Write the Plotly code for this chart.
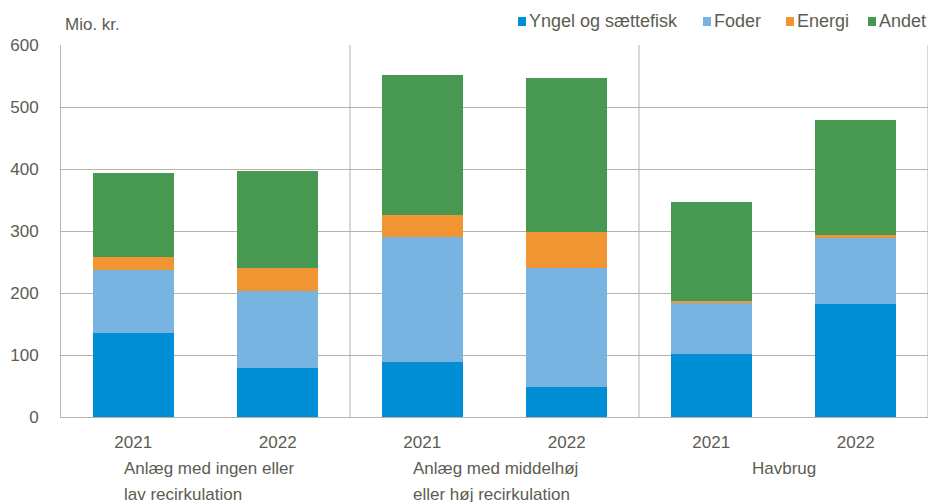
import plotly.graph_objects as go

years = ["2021", "2022", "2021", "2022", "2021", "2022"]
groups = [["Anlæg med ingen eller", "lav recirkulation"],
          ["Anlæg med middelhøj", "eller høj recirkulation"],
          ["Havbrug"]]
series_names = ["Yngel og sættefisk", "Foder", "Energi", "Andet"]
yngel = [136, 79, 89, 48, 101, 183]
foder = [101, 125, 201, 193, 84, 107]
energi = [21, 36, 36, 58, 2, 3]
andet = [135, 157, 225, 248, 160, 186]
colors = ["#008fd5", "#78b4e2", "#f19533", "#479851"]

FONT = "Liberation Sans, Arial"
TXT = "#5c5c52"
GRID = "#b4b4aa"
FS = 17

# plot-area geometry (pixels)
L, R, T, B = 61, 2, 45, 85
W, H = 930, 502
PW, PH = W - L - R, H - T - B


def px_x(p):
    return (p - L) / PW


def px_y(p):
    return (H - B - p) / PH


xpos = list(range(len(years)))
fig = go.Figure()
for name, vals, col in zip(series_names, [yngel, foder, energi, andet], colors):
    fig.add_trace(go.Bar(x=xpos, y=vals, name=name, marker_color=col,
                         marker_line_width=0, width=0.56, showlegend=False))

fig.update_layout(
    barmode="stack",
    width=W, height=H,
    margin=dict(l=L, r=R, t=T, b=B, autoexpand=False),
    paper_bgcolor="white", plot_bgcolor="white",
    font=dict(family=FONT, size=FS, color=TXT),
    showlegend=False,
    bargap=0,
)
fig.update_yaxes(range=[0, 600], dtick=100, showgrid=True, gridcolor=GRID, gridwidth=1,
                 showline=True, linecolor=GRID, linewidth=1, ticks="",
                 ticklabelstandoff=18, zeroline=False, fixedrange=True)
fig.update_xaxes(range=[-0.5, 5.5], tickmode="array", tickvals=xpos, ticktext=years,
                 showgrid=False, showline=True, linecolor=GRID, linewidth=1, ticks="",
                 ticklabelstandoff=10, zeroline=False, mirror=False, fixedrange=True)

# group separators and right border
for xv in [1.5, 3.5, 5.5]:
    fig.add_shape(type="line", xref="x", yref="paper", x0=xv, x1=xv, y0=0, y1=1,
                  line=dict(color=GRID, width=1), layer="below")

# group labels: left-aligned text blocks centred under each pair of bars
line_y = [469, 494]
for i, lines in enumerate(groups):
    for j, line in enumerate(lines):
        if len(lines) > 1:
            fig.add_annotation(text=line, xref="x", yref="paper", x=2 * i + 0.5, xshift=-84,
                               y=px_y(line_y[j]), xanchor="left", yanchor="middle",
                               showarrow=False, font=dict(size=FS, color=TXT))
        else:
            fig.add_annotation(text=line, xref="x", yref="paper", x=2 * i + 0.5,
                               y=px_y(line_y[j]), xanchor="center", yanchor="middle",
                               showarrow=False, font=dict(size=FS, color=TXT))

fig.add_annotation(text="Mio. kr.", xref="paper", yref="paper", x=px_x(63), y=px_y(24),
                   xanchor="left", yanchor="middle", showarrow=False,
                   font=dict(size=FS, color=TXT))

# legend (drawn manually for compact spacing)
legend_sq_x = [518, 703, 786, 868]
for name, col, sx in zip(series_names, colors, legend_sq_x):
    fig.add_shape(type="rect", xref="paper", yref="paper",
                  x0=px_x(sx), x1=px_x(sx + 8), y0=px_y(26), y1=px_y(17),
                  fillcolor=col, line=dict(width=0))
    fig.add_annotation(text=name, xref="paper", yref="paper", x=px_x(sx + 9), y=px_y(21),
                       xanchor="left", yanchor="middle", showarrow=False,
                       font=dict(size=18, color=TXT))

fig.write_html("out.html", config={"displayModeBar": False},
               post_script="document.body.style.margin='0';")
